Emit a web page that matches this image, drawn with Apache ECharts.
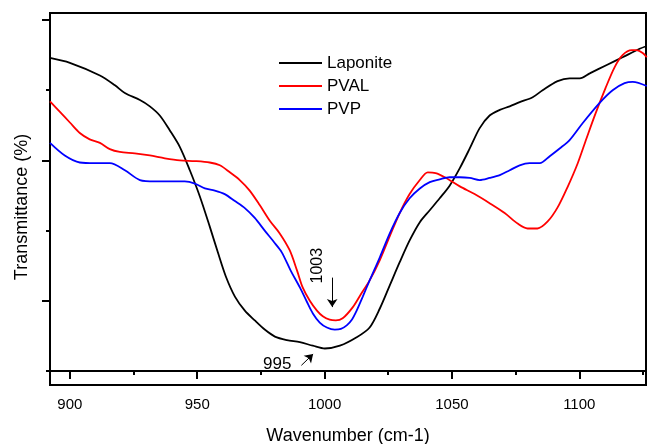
<!DOCTYPE html>
<html>
<head>
<meta charset="utf-8">
<script src="https://cdn.jsdelivr.net/npm/echarts@6/dist/echarts.min.js"></script>
<style>
html,body{margin:0;padding:0;background:#fff;}
#chart{width:648px;height:444px;}
</style>
</head>
<body>
<div id="chart"></div>
<script>
// ---- Data (wavenumber cm-1, transmittance in arbitrary units) ----
var seriesNames = ['Laponite', 'PVAL', 'PVP'];

var laponiteX = [892.2,900,911.8,917.7,921.6,927.5,931.4,935.3,939.2,943.2,947.1,951.0,954.9,958.1,961.2,964.8,968.7,972.6,976.5,980.5,985.2,990.3,995.4,1000.1,1006.0,1012.6,1017.7,1021.7,1025.6,1029.5,1033.4,1037.4,1041.3,1045.2,1049.1,1053.1,1057.0,1060.9,1064.8,1068.8,1072.7,1076.6,1081.7,1085.6,1091.5,1096.2,1100.2,1104.1,1110.8,1117.0,1123.7,1126.5];
var laponiteY = [44.6,43.9,42.1,40.7,39.6,38.6,37.7,36.4,34.3,31.9,28.6,24.9,20.6,16.9,13.5,10.6,8.6,7.2,5.9,4.9,4.4,4.1,3.6,3.2,3.6,4.8,6.2,8.9,12.2,15.5,18.6,21.2,22.9,24.6,26.4,28.9,31.7,34.6,36.4,37.2,37.7,38.3,39.0,40.0,41.3,41.7,41.7,42.4,43.6,44.7,45.9,46.3];

var pvalX = [892.2,896.1,900,903.9,907.8,911.8,915.7,919.6,925.5,931.4,937.3,943.2,949.1,954.9,958.9,962.8,966.7,970.6,974.6,978.5,982.4,986.3,989.2,991.4,994.2,997.0,999.3,1002.0,1004.4,1007.1,1011.1,1014.2,1017.7,1021.7,1025.6,1029.5,1033.4,1037.4,1040.5,1043.6,1047.2,1053.1,1058.9,1064.8,1070.7,1075.8,1079.7,1083.6,1087.6,1091.5,1095.4,1099.4,1102.9,1106.4,1110.3,1113.9,1117.0,1120.6,1122.5,1124.9,1126.5];
var pvalY = [38.4,36.9,35.4,33.9,33.0,32.5,31.6,31.2,31.0,30.7,30.3,30.0,29.9,29.7,29.3,28.3,27.2,25.7,23.6,21.4,19.6,17.2,14.3,11.9,10.0,8.6,7.8,7.3,7.2,7.5,9.1,10.9,12.9,15.8,19.2,22.5,25.2,27.2,28.3,28.2,27.6,26.3,25.2,23.9,22.5,21.0,20.3,20.3,21.3,23.3,26.2,29.6,33.2,36.7,40.3,43.3,45.0,45.7,45.7,45.3,44.7];

var pvpX = [892.2,898.0,903.9,909.8,915.7,921.6,927.5,933.4,939.2,945.1,949.1,953.0,956.9,960.8,964.8,968.7,972.6,976.5,980.5,983.2,986.7,990.3,993.0,995.4,998.1,1000.9,1004.0,1006.4,1008.7,1010.7,1012.6,1015.0,1017.7,1021.7,1025.6,1029.5,1033.4,1037.4,1041.3,1045.2,1049.1,1053.1,1057.0,1060.9,1064.8,1068.8,1072.7,1076.6,1080.5,1084.5,1088.4,1092.3,1096.2,1101.3,1108.0,1113.1,1117.8,1121.0,1126.5];
var pvpY = [32.5,30.7,29.7,29.6,29.6,28.6,27.2,27.0,27.0,27.0,26.7,26.0,25.7,25.2,24.2,23.2,21.8,20.0,18.2,16.9,14.3,11.9,9.9,8.2,6.9,6.2,5.9,6.0,6.5,7.3,8.6,10.6,12.9,16.2,19.6,22.5,24.6,26.0,26.9,27.3,27.6,27.6,27.5,27.2,27.5,27.9,28.6,29.3,29.6,29.6,30.6,31.7,32.9,35.3,38.2,40.0,41.0,41.2,40.6];

var xMajorTicks = [900, 950, 1000, 1050, 1100];
var xMinorTicks = [925, 975, 1025, 1075, 1125];
var yMajorTicks = [10, 30, 50];
var yMinorTicks = [0, 20, 40];

// annotation labels and arrows (data coordinates)
var annoLabels = ['1003', '995'];
var annoLabelX = [997.1, 981.4];
var annoLabelY = [15.0, 1.0];
var arrowFromX = [1003, 990.9];
var arrowFromY = [13.3, 0.8];
var arrowToX = [1003, 995.5];
var arrowToY = [9.1, 2.4];

function zip(xs, ys) { return xs.map(function (x, i) { return [x, ys[i]]; }); }

var FONT = '"Liberation Sans", Arial, sans-serif';
var colors = ['#000000', '#ff0000', '#0000ff'];

var chart = echarts.init(document.getElementById('chart'), null, {renderer: 'canvas'});

var xBase = {
  type: 'value', min: 892.2, max: 1126.2, position: 'bottom', gridIndex: 0,
  splitLine: {show: false}
};
var yBase = {
  type: 'value', min: -2, max: 51, position: 'left', gridIndex: 0,
  splitLine: {show: false}
};

var option = {
  animation: false,
  backgroundColor: '#ffffff',
  color: colors,
  grid: {left: 50, right: 2, top: 13, bottom: 59, containLabel: false, outerBoundsMode: 'none',
    show: true, borderColor: '#000', borderWidth: 2, backgroundColor: 'transparent'},
  legend: {
    data: seriesNames,
    orient: 'vertical',
    left: 274, top: 48,
    icon: 'rect', itemWidth: 43, itemHeight: 2, itemGap: 3,
    textStyle: {fontFamily: FONT, fontSize: 17, color: '#000', lineHeight: 20}
  },
  xAxis: [
    Object.assign({}, xBase, {
      name: 'Wavenumber (cm-1)', nameLocation: 'middle', nameGap: 42,
      nameTextStyle: {fontFamily: FONT, fontSize: 18, color: '#000'},
      axisLine: {show: true, lineStyle: {color: '#000', width: 2}},
      axisTick: {show: true, inside: false, length: 8, customValues: xMajorTicks, lineStyle: {color: '#000', width: 2}},
      axisLabel: {show: true, customValues: xMajorTicks, margin: 12, fontFamily: FONT, fontSize: 15, color: '#000',
        formatter: function (v) { return String(Math.round(v)); }}
    }),
    Object.assign({}, xBase, {
      axisLine: {show: false},
      axisTick: {show: true, inside: false, length: 4, customValues: xMinorTicks, lineStyle: {color: '#000', width: 2}},
      axisLabel: {show: false}
    })
  ],
  yAxis: [
    Object.assign({}, yBase, {
      name: 'Transmittance (%)', nameLocation: 'middle', nameGap: 19,
      nameTextStyle: {fontFamily: FONT, fontSize: 18, color: '#000', padding: [0, 16, 0, 0]},
      axisLine: {show: true, lineStyle: {color: '#000', width: 2}},
      axisTick: {show: true, inside: false, length: 8, customValues: yMajorTicks, lineStyle: {color: '#000', width: 2}},
      axisLabel: {show: false}
    }),
    Object.assign({}, yBase, {
      axisLine: {show: false},
      axisTick: {show: true, inside: false, length: 4, customValues: yMinorTicks, lineStyle: {color: '#000', width: 2}},
      axisLabel: {show: false}
    })
  ],
  series: [
    {
      name: seriesNames[0], type: 'line', xAxisIndex: 0, yAxisIndex: 0,
      data: zip(laponiteX, laponiteY), showSymbol: false, smooth: 0.3,
      lineStyle: {color: colors[0], width: 1.8}, itemStyle: {color: colors[0]},
      markLine: {
        silent: true, symbol: ['none', 'arrow'], symbolSize: 8,
        label: {show: false},
        lineStyle: {color: '#000', width: 1, type: 'solid'},
        data: arrowFromX.map(function (x, i) {
          return [{coord: [arrowFromX[i], arrowFromY[i]]}, {coord: [arrowToX[i], arrowToY[i]]}];
        })
      },
      markPoint: {
        silent: true,
        data: annoLabels.map(function (t, i) {
          return {
            coord: [annoLabelX[i], annoLabelY[i]], symbol: 'rect', symbolSize: [1, 1],
            itemStyle: {color: 'rgba(0,0,0,0)'},
            label: {show: true, formatter: t, position: 'inside', rotate: i === 0 ? 90 : 0,
              fontFamily: FONT, fontSize: i === 0 ? 16 : 17, color: '#000'}
          };
        })
      }
    },
    {
      name: seriesNames[1], type: 'line', xAxisIndex: 0, yAxisIndex: 0,
      data: zip(pvalX, pvalY), showSymbol: false, smooth: 0.3,
      lineStyle: {color: colors[1], width: 1.8}, itemStyle: {color: colors[1]}
    },
    {
      name: seriesNames[2], type: 'line', xAxisIndex: 0, yAxisIndex: 0,
      data: zip(pvpX, pvpY), showSymbol: false, smooth: 0.3,
      lineStyle: {color: colors[2], width: 1.8}, itemStyle: {color: colors[2]}
    }
  ]
};
chart.setOption(option);
</script>
</body>
</html>
